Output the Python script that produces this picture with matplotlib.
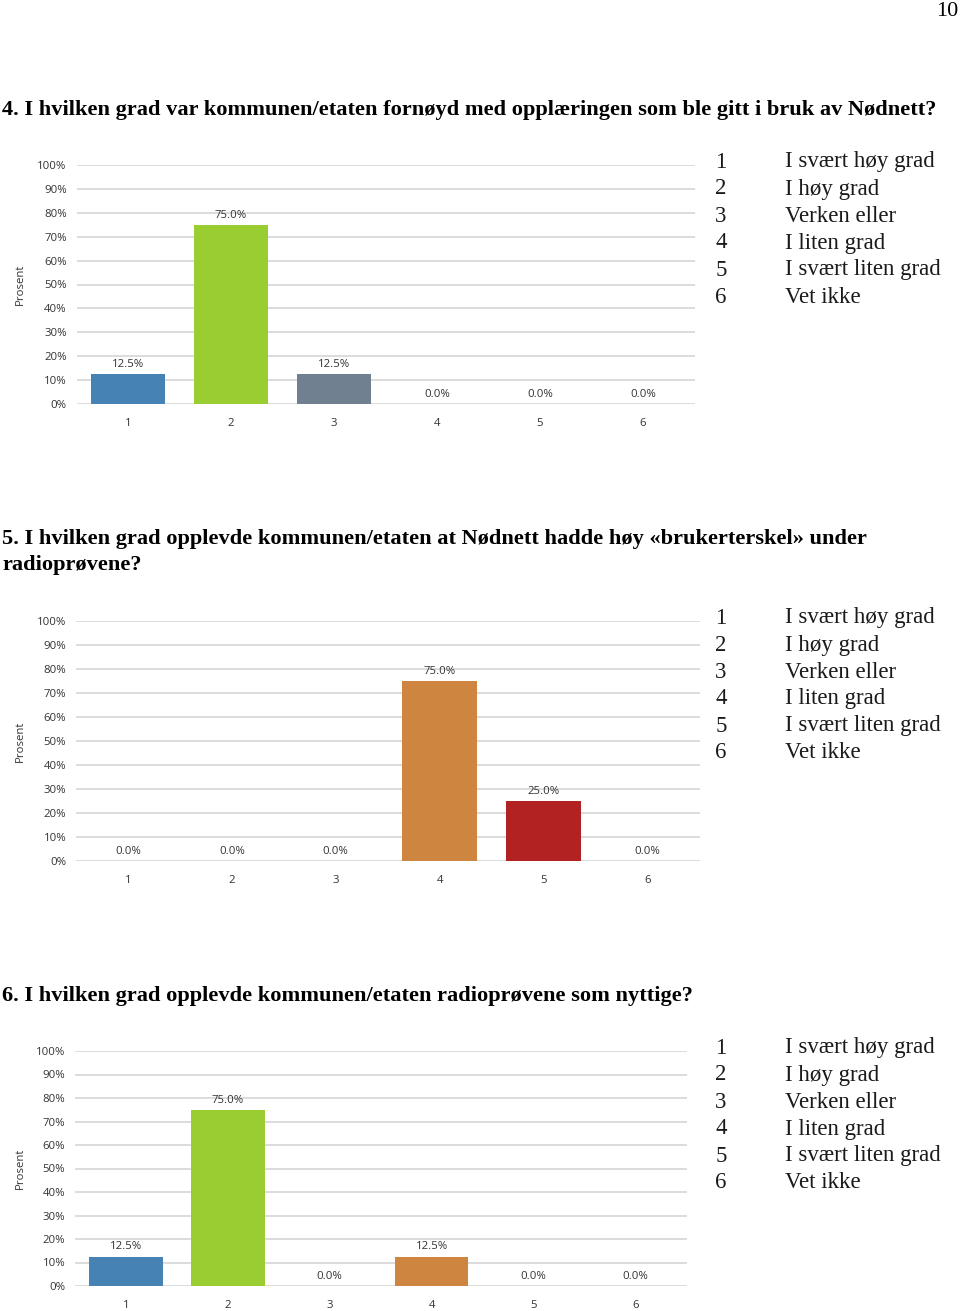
import matplotlib.pyplot as plt

W, H = 960, 1311

categories = ['1', '2', '3', '4', '5', '6']
legend_labels = ['I svært høy grad', 'I høy grad', 'Verken eller',
                 'I liten grad', 'I svært liten grad', 'Vet ikke']
bar_colors = ['#4682B4', '#9ACD32', '#708090', '#CD853F', '#B22222', '#708090']

q4_title = '4. I hvilken grad var kommunen/etaten fornøyd med opplæringen som ble gitt i bruk av Nødnett?'
q4_values = [12.5, 75.0, 12.5, 0.0, 0.0, 0.0]

q5_title = ('5. I hvilken grad opplevde kommunen/etaten at Nødnett hadde høy «brukerterskel» under\n'
            'radioprøvene?')
q5_values = [0.0, 0.0, 0.0, 75.0, 25.0, 0.0]

q6_title = '6. I hvilken grad opplevde kommunen/etaten radioprøvene som nyttige?'
q6_values = [12.5, 75.0, 0.0, 12.5, 0.0, 0.0]

yticks = [0, 10, 20, 30, 40, 50, 60, 70, 80, 90, 100]

sans = ['Open Sans', 'DejaVu Sans']
serif = ['Liberation Serif', 'DejaVu Serif']
txt = '#333333'

fig = plt.figure(figsize=(W / 100, H / 100), dpi=100)


def px_axes(left, right, top, bottom):
    return fig.add_axes([left / W, 1 - bottom / H, (right - left) / W, (bottom - top) / H])


def chart(values, left, right, top, bottom, title, title_y, legend_y):
    ax = px_axes(left, right, top, bottom)
    x = range(len(categories))
    ax.bar(x, values, width=0.72, color=bar_colors, zorder=3)
    for xi, v in zip(x, values):
        ax.annotate(f'{v:.1f}%', (xi, v), xytext=(0, 3), textcoords='offset points',
                    ha='center', va='bottom', fontsize=8.2, color=txt, family=sans)
    ax.set_xlim(-0.5, len(categories) - 0.5)
    ax.set_ylim(0, 100)
    ax.set_yticks(yticks)
    ax.set_yticklabels([f'{t}%' for t in yticks], fontsize=8.2, color=txt, family=sans)
    ax.set_xticks(list(x))
    ax.set_xticklabels(categories, fontsize=8.2, color=txt, family=sans)
    ax.tick_params(axis='y', length=0, pad=7)
    ax.tick_params(axis='x', length=0, pad=10)
    ax.grid(axis='y', color='#d9d9d9', linewidth=1.3, zorder=0)
    for s in ax.spines.values():
        s.set_visible(False)
    fig.text(20 / W, 1 - ((top + bottom) / 2) / H, 'Prosent', rotation=90, ha='center',
             va='center', fontsize=8.2, color=txt, family=sans)
    fig.text(2 / W, 1 - title_y / H, title, ha='left', va='top', fontsize=16.1,
             fontweight='bold', family=serif, linespacing=1.37)
    for i, (c, lab) in enumerate(zip(categories, legend_labels)):
        y = 1 - (legend_y + i * 27) / H
        fig.text(721 / W, y, c, ha='center', va='center', fontsize=16.5, family=serif, color='#1a1a1a')
        fig.text(785 / W, y, lab, ha='left', va='center', fontsize=16.5, family=serif, color='#1a1a1a')
    return ax


chart(q4_values, 76.5, 694.5, 165, 404, q4_title, 100, 162)
chart(q5_values, 76, 699.5, 621, 861, q5_title, 529, 618)
chart(q6_values, 75, 686.5, 1051, 1286, q6_title, 986, 1048)

fig.text(958 / W, 1 - 2 / H, '10', ha='right', va='top', fontsize=16, family=serif)

fig.savefig('out.png', dpi=100)
